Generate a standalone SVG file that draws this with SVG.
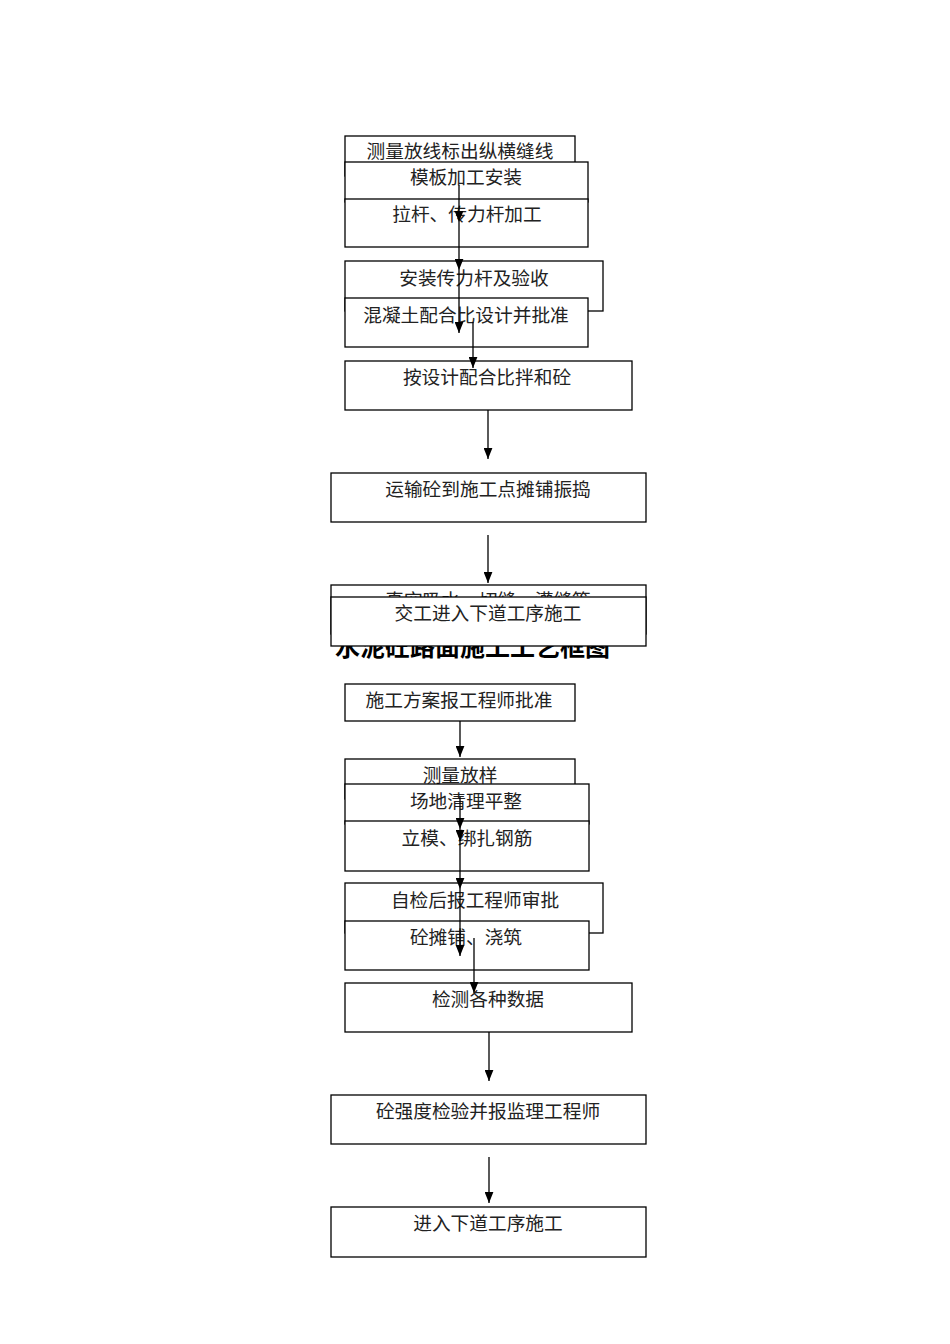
<svg xmlns="http://www.w3.org/2000/svg" width="950" height="1344" viewBox="0 0 950 1344">
<style>
.b{fill:#fff;stroke:#000;stroke-width:1.3}
.t{font-family:"Noto Sans CJK SC","Liberation Serif",serif;font-size:18.7px;fill:#222;text-anchor:middle}
.title{font-family:"Noto Sans CJK SC","Liberation Sans",sans-serif;font-size:25px;font-weight:bold;fill:#000}
.c{stroke:#000;stroke-width:1.3;fill:none}
</style>
<defs>
<marker id="ah" markerUnits="userSpaceOnUse" viewBox="0 0 10 8" refX="10" refY="4" markerWidth="11" markerHeight="9" orient="auto">
<path d="M0,0 L10,4 L0,8 z" fill="#000"/>
</marker>
</defs>
<rect width="950" height="1344" fill="#fff"/>
<text class="title" x="335" y="656">水泥砼路面施工工艺框图</text>
<g id="n1"><rect class="b" x="345" y="136" width="230" height="40"/><text class="t" x="460" y="158">测量放线标出纵横缝线</text></g>
<g id="n2"><rect class="b" x="345" y="162" width="243" height="40"/><text class="t" x="466" y="184">模板加工安装</text></g>
<g id="n3"><rect class="b" x="345" y="199" width="243" height="48"/><text class="t" x="467" y="221">拉杆、传力杆加工</text></g>
<g id="n4"><rect class="b" x="345" y="261" width="258" height="50"/><text class="t" x="474" y="285">安装传力杆及验收</text></g>
<g id="n5"><rect class="b" x="345" y="298" width="243" height="49"/><text class="t" x="466" y="322">混凝土配合比设计并批准</text></g>
<g id="n6"><rect class="b" x="345" y="361" width="287" height="49"/><text class="t" x="487" y="384">按设计配合比拌和砼</text></g>
<g id="n7"><rect class="b" x="331" y="473" width="315" height="49"/><text class="t" x="488" y="496">运输砼到施工点摊铺振捣</text></g>
<g id="n8"><rect class="b" x="331" y="585" width="315" height="49"/><text class="t" x="488" y="607">真空吸水、切缝、灌缝等</text></g>
<g id="n9"><rect class="b" x="331" y="597" width="315" height="49"/><text class="t" x="488" y="620">交工进入下道工序施工</text></g>
<g id="m1"><rect class="b" x="345" y="684" width="230" height="37"/><text class="t" x="459" y="707">施工方案报工程师批准</text></g>
<g id="m2"><rect class="b" x="345" y="759" width="230" height="40"/><text class="t" x="460" y="782">测量放样</text></g>
<g id="m3"><rect class="b" x="345" y="784" width="244" height="40"/><text class="t" x="466" y="808">场地清理平整</text></g>
<g id="m4"><rect class="b" x="345" y="821" width="244" height="50"/><text class="t" x="467" y="845">立模、绑扎钢筋</text></g>
<g id="m5"><rect class="b" x="345" y="883" width="258" height="50"/><text class="t" x="475" y="907">自检后报工程师审批</text></g>
<g id="m6"><rect class="b" x="345" y="921" width="244" height="49"/><text class="t" x="466" y="944">砼摊铺、浇筑</text></g>
<g id="m7"><rect class="b" x="345" y="983" width="287" height="49"/><text class="t" x="488" y="1006">检测各种数据</text></g>
<g id="m8"><rect class="b" x="331" y="1095" width="315" height="49"/><text class="t" x="488" y="1118">砼强度检验并报监理工程师</text></g>
<g id="m9"><rect class="b" x="331" y="1207" width="315" height="50"/><text class="t" x="488" y="1230">进入下道工序施工</text></g>
<g id="connectors">
<line class="c" x1="459" y1="185" x2="459" y2="222" marker-end="url(#ah)"/>
<line class="c" x1="459" y1="222" x2="459" y2="270" marker-end="url(#ah)"/>
<line class="c" x1="459" y1="270" x2="459" y2="333" marker-end="url(#ah)"/>
<line class="c" x1="473" y1="322" x2="473" y2="368" marker-end="url(#ah)"/>
<line class="c" x1="488" y1="410" x2="488" y2="459" marker-end="url(#ah)"/>
<line class="c" x1="488" y1="535" x2="488" y2="583" marker-end="url(#ah)"/>
<line class="c" x1="460" y1="721" x2="460" y2="757" marker-end="url(#ah)"/>
<line class="c" x1="460" y1="797" x2="460" y2="829" marker-end="url(#ah)"/>
<line class="c" x1="460" y1="829" x2="460" y2="841" marker-end="url(#ah)"/>
<line class="c" x1="460" y1="841" x2="460" y2="889" marker-end="url(#ah)"/>
<line class="c" x1="460" y1="889" x2="460" y2="956" marker-end="url(#ah)"/>
<line class="c" x1="474" y1="938" x2="474" y2="993" marker-end="url(#ah)"/>
<line class="c" x1="489" y1="1032" x2="489" y2="1081" marker-end="url(#ah)"/>
<line class="c" x1="489" y1="1157" x2="489" y2="1203" marker-end="url(#ah)"/>
</g>
</svg>
